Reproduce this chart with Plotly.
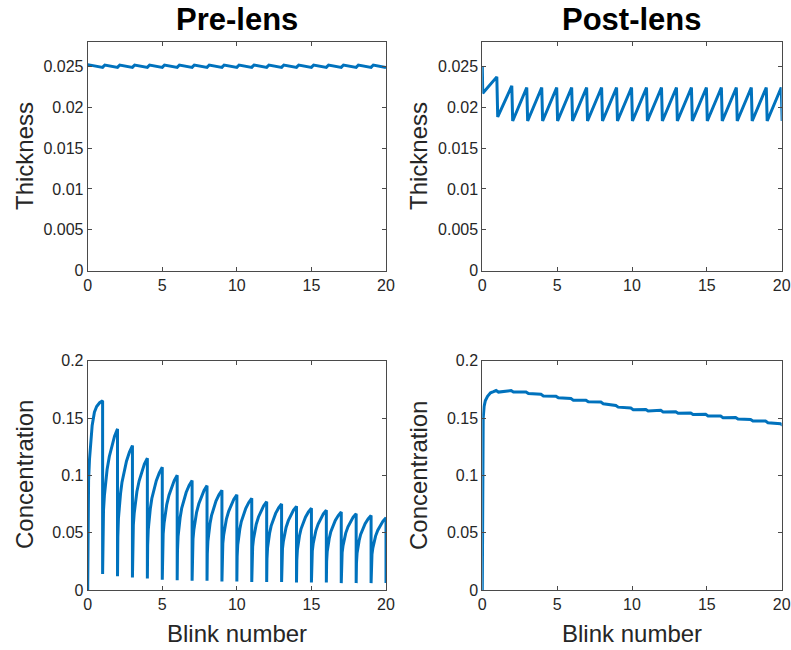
import plotly.graph_objects as go

# ---------------- data ----------------
blinks = list(range(0, 21))  # blink numbers 0..20

# Pre-lens thickness: value just before each blink (trough) and just after (peak)
pre_thick_trough = [0.02490, 0.02486, 0.02486, 0.02486, 0.02486, 0.02486, 0.02486,
                    0.02486, 0.02486, 0.02486, 0.02486, 0.02486, 0.02486, 0.02486,
                    0.02486, 0.02486, 0.02486, 0.02486, 0.02486, 0.02486, 0.02484]
pre_thick_peak = [0.02520, 0.02515, 0.02515, 0.02515, 0.02515, 0.02515, 0.02515,
                  0.02515, 0.02515, 0.02515, 0.02515, 0.02515, 0.02515, 0.02515,
                  0.02515, 0.02515, 0.02515, 0.02515, 0.02515, 0.02515]

# Post-lens thickness: peak just before each blink, trough just after
post_thick_start = [0.0250, 0.0217]
post_thick_peak = [0.0237, 0.0226, 0.0224, 0.0224, 0.0224, 0.0224, 0.0224, 0.0224,
                   0.0224, 0.0224, 0.0224, 0.0224, 0.0224, 0.0224, 0.0224, 0.0224,
                   0.0224, 0.0224, 0.0224, 0.0224]
post_thick_trough = [0.0188, 0.0183, 0.0183, 0.0183, 0.0183, 0.0183, 0.0183, 0.0183,
                     0.0183, 0.0183, 0.0183, 0.0183, 0.0183, 0.0183, 0.0183, 0.0183,
                     0.0183, 0.0183, 0.0183, 0.0183]

# Pre-lens concentration: peak reached at each blink, trough right after it
pre_conc_peak = [0.165, 0.1405, 0.126, 0.115, 0.107, 0.100, 0.0955, 0.091, 0.087,
                 0.083, 0.080, 0.077, 0.075, 0.073, 0.0713, 0.0695, 0.068, 0.0666,
                 0.065, 0.063]
pre_conc_trough = [0.0, 0.014, 0.012, 0.011, 0.010, 0.009, 0.0085, 0.008, 0.008,
                   0.0075, 0.0075, 0.007, 0.007, 0.007, 0.0065, 0.0065, 0.0065,
                   0.006, 0.006, 0.006, 0.006]
# shape of the rise inside one blink interval (phase -> fraction of rise)
rise_phase = [0.0, 0.02, 0.06, 0.12, 0.2, 0.3, 0.45, 0.6, 0.8, 1.0]
rise_frac = [0.0, 0.30, 0.44, 0.54, 0.63, 0.72, 0.81, 0.88, 0.95, 1.0]
rise_frac_first = [0.0, 0.40, 0.58, 0.69, 0.78, 0.87, 0.94, 0.97, 0.99, 1.0]

# Post-lens concentration
post_conc_start_x = [0.0, 0.01, 0.03, 0.06, 0.12, 0.2, 0.35, 0.55, 0.75]
post_conc_start_y = [0.0, 0.070, 0.125, 0.150, 0.160, 0.165, 0.169, 0.172, 0.173]
post_conc_blink = [0.1733, 0.1733, 0.172, 0.170, 0.1683, 0.1663, 0.1649, 0.1632,
                   0.1602, 0.158, 0.1568, 0.156, 0.1548, 0.1537, 0.1525, 0.151,
                   0.1498, 0.148, 0.1466, 0.1443]
post_conc_bump = 0.0007

# ---------------- build the curves ----------------
# pre-lens thickness
ptx, pty = [0.0], [pre_thick_peak[0]]
for k in range(1, 21):
    ptx.append(k)
    pty.append(pre_thick_trough[k])
    if k < 20:
        ptx.append(k + 0.15)
        pty.append(pre_thick_peak[k])

# post-lens thickness
qtx, qty = [0.0, 0.03], list(post_thick_start)
for k in range(1, 21):
    qtx += [k - 0.03, k + 0.03]
    qty += [post_thick_peak[k - 1], post_thick_trough[k - 1]]

# pre-lens concentration
pcx, pcy = [], []
for k in range(20):
    lo, hi = pre_conc_trough[k], pre_conc_peak[k]
    shape = rise_frac_first if k == 0 else rise_frac
    for ph, fr in zip(rise_phase, shape):
        pcx.append(k + ph)
        pcy.append(lo + fr * (hi - lo))
pcx.append(20.0)
pcy.append(pre_conc_trough[20])

# post-lens concentration
qcx, qcy = list(post_conc_start_x), list(post_conc_start_y)
for k in range(1, 21):
    v = post_conc_blink[k - 1]
    qcx += [k - 0.08, k + 0.08]
    qcy += [v + post_conc_bump, v - post_conc_bump]

# ---------------- figure ----------------
BLUE = "#0072BD"
AX = "#262626"
FONT = "Liberation Sans, Arial, Helvetica, sans-serif"

fig = go.Figure()
W, H = 791, 650
xl = [87.7 / W, 386.0 / W]
xr = [482.3 / W, 781.7 / W]
yt = [1 - 270.7 / H, 1 - 41.7 / H]
yb = [1 - 590.0 / H, 1 - 360.7 / H]

panels = [
    ("x", "y", ptx, pty, xl, yt, [0, 0.028], [0, 0.005, 0.01, 0.015, 0.02, 0.025],
     ["0", "0.005", "0.01", "0.015", "0.02", "0.025"]),
    ("x2", "y2", qtx, qty, xr, yt, [0, 0.028], [0, 0.005, 0.01, 0.015, 0.02, 0.025],
     ["0", "0.005", "0.01", "0.015", "0.02", "0.025"]),
    ("x3", "y3", pcx, pcy, xl, yb, [0, 0.2], [0, 0.05, 0.1, 0.15, 0.2],
     ["0", "0.05", "0.1", "0.15", "0.2"]),
    ("x4", "y4", qcx, qcy, xr, yb, [0, 0.2], [0, 0.05, 0.1, 0.15, 0.2],
     ["0", "0.05", "0.1", "0.15", "0.2"]),
]

layout = dict(
    width=W, height=H, margin=dict(l=0, r=0, t=0, b=0, pad=0, autoexpand=False),
    paper_bgcolor="white", plot_bgcolor="white", showlegend=False,
    font=dict(family=FONT, color=AX, size=16),
)
for i, (xa, ya, xs, ys, xd, yd, yr, tv, tt) in enumerate(panels):
    fig.add_trace(go.Scatter(x=xs, y=ys, xaxis=xa, yaxis=ya, mode="lines",
                             line=dict(color=BLUE, width=3), hoverinfo="skip"))
    n = "" if i == 0 else str(i + 1)
    common = dict(showline=True, linecolor="#4a4a4a", linewidth=1, mirror="allticks",
                  ticks="inside", ticklen=4, tickcolor="#4a4a4a", showgrid=False,
                  zeroline=False, automargin=False,
                  tickfont=dict(size=16, color=AX, family=FONT))
    layout["xaxis" + n] = dict(domain=xd, range=[0, 20], tickvals=[0, 5, 10, 15, 20],
                               ticktext=["0", "5", "10", "15", "20"],
                               anchor="y" + n, **common)
    layout["yaxis" + n] = dict(domain=yd, range=yr, tickvals=tv, ticktext=tt,
                               anchor="x" + n, **common)
fig.update_layout(**layout)

ann = []
for txt, xc in [("Pre-lens", 236.9), ("Post-lens", 632.0)]:
    ann.append(dict(text="<b>%s</b>" % txt, x=xc / W, y=1 - 19 / H, xref="paper",
                    yref="paper", xanchor="center", yanchor="middle", showarrow=False,
                    font=dict(size=31, color="black", family=FONT)))
for txt, xc, yc in [("Thickness", 24, 156), ("Thickness", 418, 156),
                    ("Concentration", 24, 475), ("Concentration", 418, 475)]:
    ann.append(dict(text=txt, x=xc / W, y=1 - yc / H, xref="paper", yref="paper",
                    xanchor="center", yanchor="middle", textangle=-90, showarrow=False,
                    font=dict(size=24, color=AX, family=FONT)))
for xc in [236.9, 632.0]:
    ann.append(dict(text="Blink number", x=xc / W, y=1 - 633 / H, xref="paper",
                    yref="paper", xanchor="center", yanchor="middle", showarrow=False,
                    font=dict(size=24, color=AX, family=FONT)))
fig.update_layout(annotations=ann)

fig.write_html("out.html")
